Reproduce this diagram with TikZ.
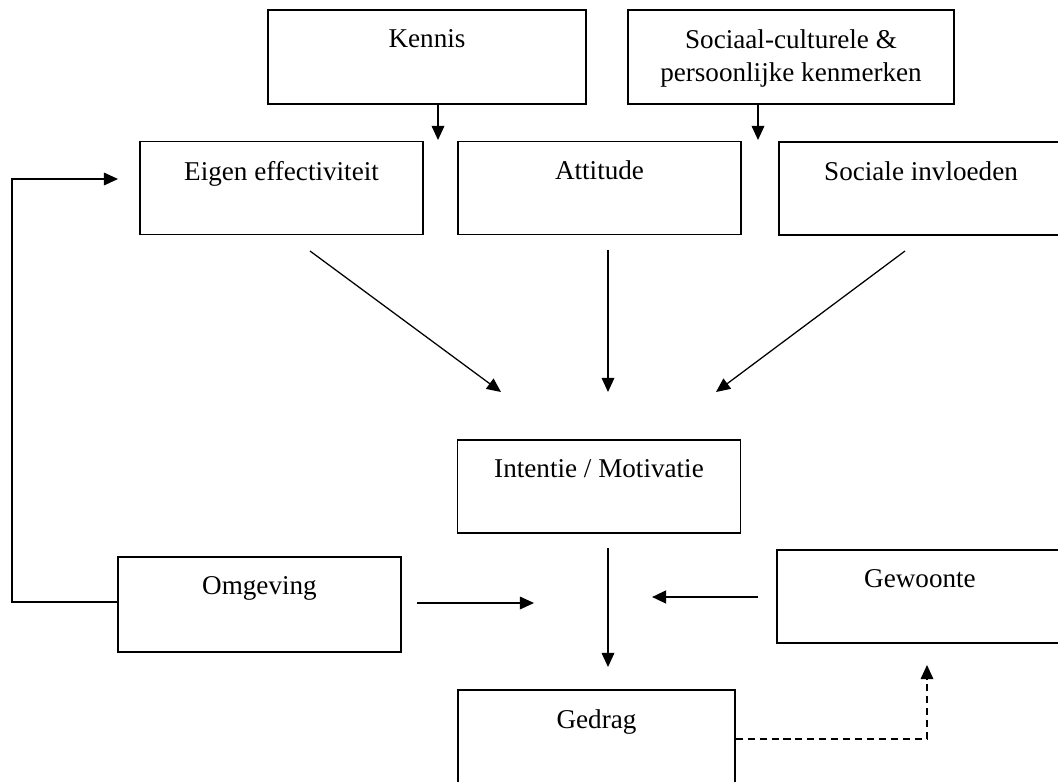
\documentclass[tikz,border=0pt]{standalone}
\usepackage{fontspec}
\setmainfont{Liberation Serif}
\usetikzlibrary{arrows.meta}
\newcommand{\tekst}{\fontsize{19.3}{23.4}\selectfont}
\tikzset{
  blok/.style={draw, line width=0.9pt, minimum width=7.075cm, minimum height=2.325cm, inner sep=0pt},
  kop/.style={label={[anchor=north, yshift=-0.5cm, inner sep=0pt, align=center, font=\tekst]north:{#1}}},
  pijl/.style={line width=0.9pt, -{Triangle[length=10pt,width=9pt]}},
}
\begin{document}
\begin{tikzpicture}[x=0.025cm, y=-0.025cm]
  \useasboundingbox (0,0) rectangle (1058,782);
  \clip (0,0) rectangle (1058,782);
  % bovenste rij
  \node[blok, minimum width=7.95cm, minimum height=2.35cm, kop=Kennis] (kennis) at (427,57) {};
  \node[blok, minimum width=8.15cm, minimum height=2.35cm, kop={Sociaal-culturele \&\\persoonlijke kenmerken}] (sociaal) at (791,57) {};
  % determinanten
  \node[blok, kop=Eigen effectiviteit] (eigen) at (281.5,188) {};
  \node[blok, kop=Attitude] (attitude) at (599.5,188) {};
  \node[blok, minimum width=7.1cm, kop=Sociale invloeden] (invloed) at (921,188.5) {};
  % intentie en gedrag
  \node[blok, kop=Intentie / Motivatie] (intentie) at (599,486.5) {};
  \node[blok, minimum height=2.375cm, kop=Omgeving] (omgeving) at (259.5,604.5) {};
  \node[blok, minimum width=7.15cm, kop=Gewoonte] (gewoonte) at (920,596.5) {};
  \node[blok, minimum width=6.925cm, kop=Gedrag] (gedrag) at (596.5,736.5) {};
  % losse eindpunten van de pijlen
  \coordinate (kpunt) at (438,140);
  \coordinate (spunt) at (758,140);
  \coordinate (e1) at (310,251);  \coordinate (e2) at (501,392);
  \coordinate (a1) at (608,250);  \coordinate (a2) at (608,392);
  \coordinate (i1) at (905,251);  \coordinate (i2) at (716,392);
  \coordinate (m1) at (608,548);  \coordinate (m2) at (608,667);
  \coordinate (o1) at (417,603);  \coordinate (o2) at (534,603);
  \coordinate (g1) at (758,597);  \coordinate (g2) at (652,597);
  \coordinate (dhoek) at (927,739); \coordinate (dpunt) at (927,665);
  \coordinate (thoek) at (12,602); \coordinate (tpunt) at (118,179);
  % kennis en kenmerken naar beneden
  \draw[pijl] (kennis.south -| kpunt) -- (kpunt);
  \draw[pijl] (sociaal.south -| spunt) -- (spunt);
  % drie pijlen naar intentie
  \draw[pijl] (e1) -- (e2);
  \draw[pijl] (a1) -- (a2);
  \draw[pijl] (i1) -- (i2);
  % intentie naar gedrag
  \draw[pijl] (m1) -- (m2);
  \draw[pijl] (o1) -- (o2);
  \draw[pijl, line width=1.8pt] (g1) -- (g2);
  % terugkoppeling omgeving naar eigen effectiviteit
  \draw[pijl] (omgeving.west |- thoek) -- (thoek) |- (tpunt);
  % gedrag naar gewoonte (gestippeld)
  \draw[pijl, line width=0.8pt, dash pattern=on 5pt off 3.5pt] (gedrag.east |- dhoek) -- (dhoek) -- (dpunt);
\end{tikzpicture}
\end{document}
